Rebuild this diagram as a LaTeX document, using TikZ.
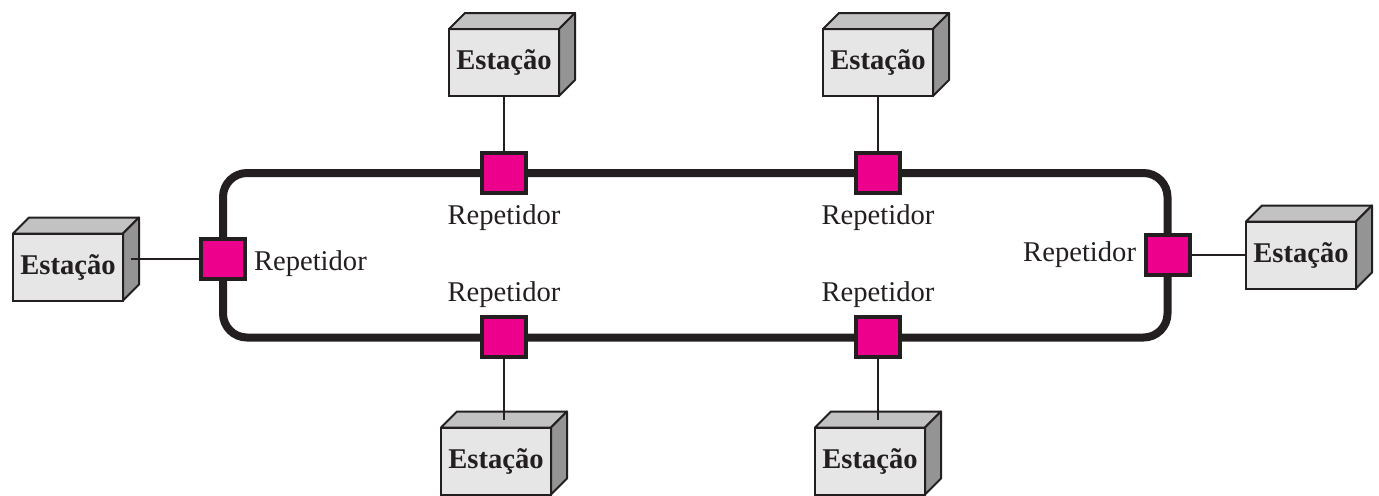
\documentclass[tikz,border=0pt]{standalone}
\usepackage{fontspec}
\setmainfont{Liberation Serif}
\usetikzlibrary{positioning}
\definecolor{ink}{HTML}{231F20}
\definecolor{repMagenta}{HTML}{EC008C}
\definecolor{frontGray}{HTML}{E6E6E6}
\definecolor{topGray}{HTML}{C2C2C2}
\definecolor{sideGray}{HTML}{949494}
\begin{document}
\begin{tikzpicture}
[x=0.5pt,y=-0.5pt,
  stationDecorate/.style={shape=rectangle,draw=ink,line width=1pt,fill=frontGray,
    minimum width=55pt,minimum height=33.5pt,inner sep=0pt,outer sep=0pt,
    font=\fontsize{14.3}{17}\selectfont\bfseries,text=ink},
  faceDecorate/.style={draw=ink,line width=1pt,line join=round},
  repeaterDecorate/.style={shape=rectangle,draw=ink,line width=2pt,fill=repMagenta,
    minimum width=22pt,minimum height=20pt,inner sep=0pt},
  labelDecorate/.style={inner sep=0pt,outer sep=0pt,text=ink,font=\fontsize{14.3}{17}\selectfont},
  ringDecorate/.style={draw=ink,line width=4pt,rounded corners=12pt},
  lineDecorate/.style={-,draw=ink,line width=1pt}]
\useasboundingbox (0,0) rectangle (1379,495);
%% ring
\draw[ringDecorate] (223,173) rectangle (1167.5,337.5);
%% stations and repeaters
\foreach \nodename/\x/\y in {st1/504/62.5, st2/878/62.5, st3/68/267, st4/1301/255, st5/496/461, st6/870/461} {
  \node (\nodename) at (\x,\y) [stationDecorate] {Estação};
  \draw[faceDecorate,fill=topGray] (\nodename.north west) -- ([shift={(16,-16)}]\nodename.north west)
    -- ([shift={(16,-16)}]\nodename.north east) -- (\nodename.north east) -- cycle;
  \draw[faceDecorate,fill=sideGray] (\nodename.north east) -- ([shift={(16,-16)}]\nodename.north east)
    -- ([shift={(16,-16)}]\nodename.south east) -- (\nodename.south east) -- cycle;
}
\foreach \nodename/\x/\y in {rp1/504/173, rp2/878/173, rp3/223/259, rp4/1168/255, rp5/504/337, rp6/878/337} {
  \node (\nodename) at (\x,\y) [repeaterDecorate] {};
}
%% labels
\node[labelDecorate,below=5pt of rp1] (lb1) {Repetidor};
\node[labelDecorate,below=5pt of rp2] (lb2) {Repetidor};
\node[labelDecorate,right=3.5pt of rp3,yshift=-2.5pt] (lb3) {Repetidor};
\node[labelDecorate,left=4pt of rp4] (lb4) {Repetidor};
\node[labelDecorate,above=3.5pt of rp5] (lb5) {Repetidor};
\node[labelDecorate,above=3.5pt of rp6] (lb6) {Repetidor};
%% attachment points on the visible faces
\coordinate (st3side) at ([shift={(8,-8)}]st3.east);
\coordinate (st5top) at ([shift={(8,-8)}]st5.north);
\coordinate (st6top) at ([shift={(8,-8)}]st6.north);
%% edges or lines
\draw[lineDecorate] (st1) -- (rp1);
\draw[lineDecorate] (st2) -- (rp2);
\draw[lineDecorate] (st3side) -- (rp3);
\draw[lineDecorate] (rp4) -- (st4);
\draw[lineDecorate] (rp5) -- (st5top);
\draw[lineDecorate] (rp6) -- (st6top);
\end{tikzpicture}
\end{document}
